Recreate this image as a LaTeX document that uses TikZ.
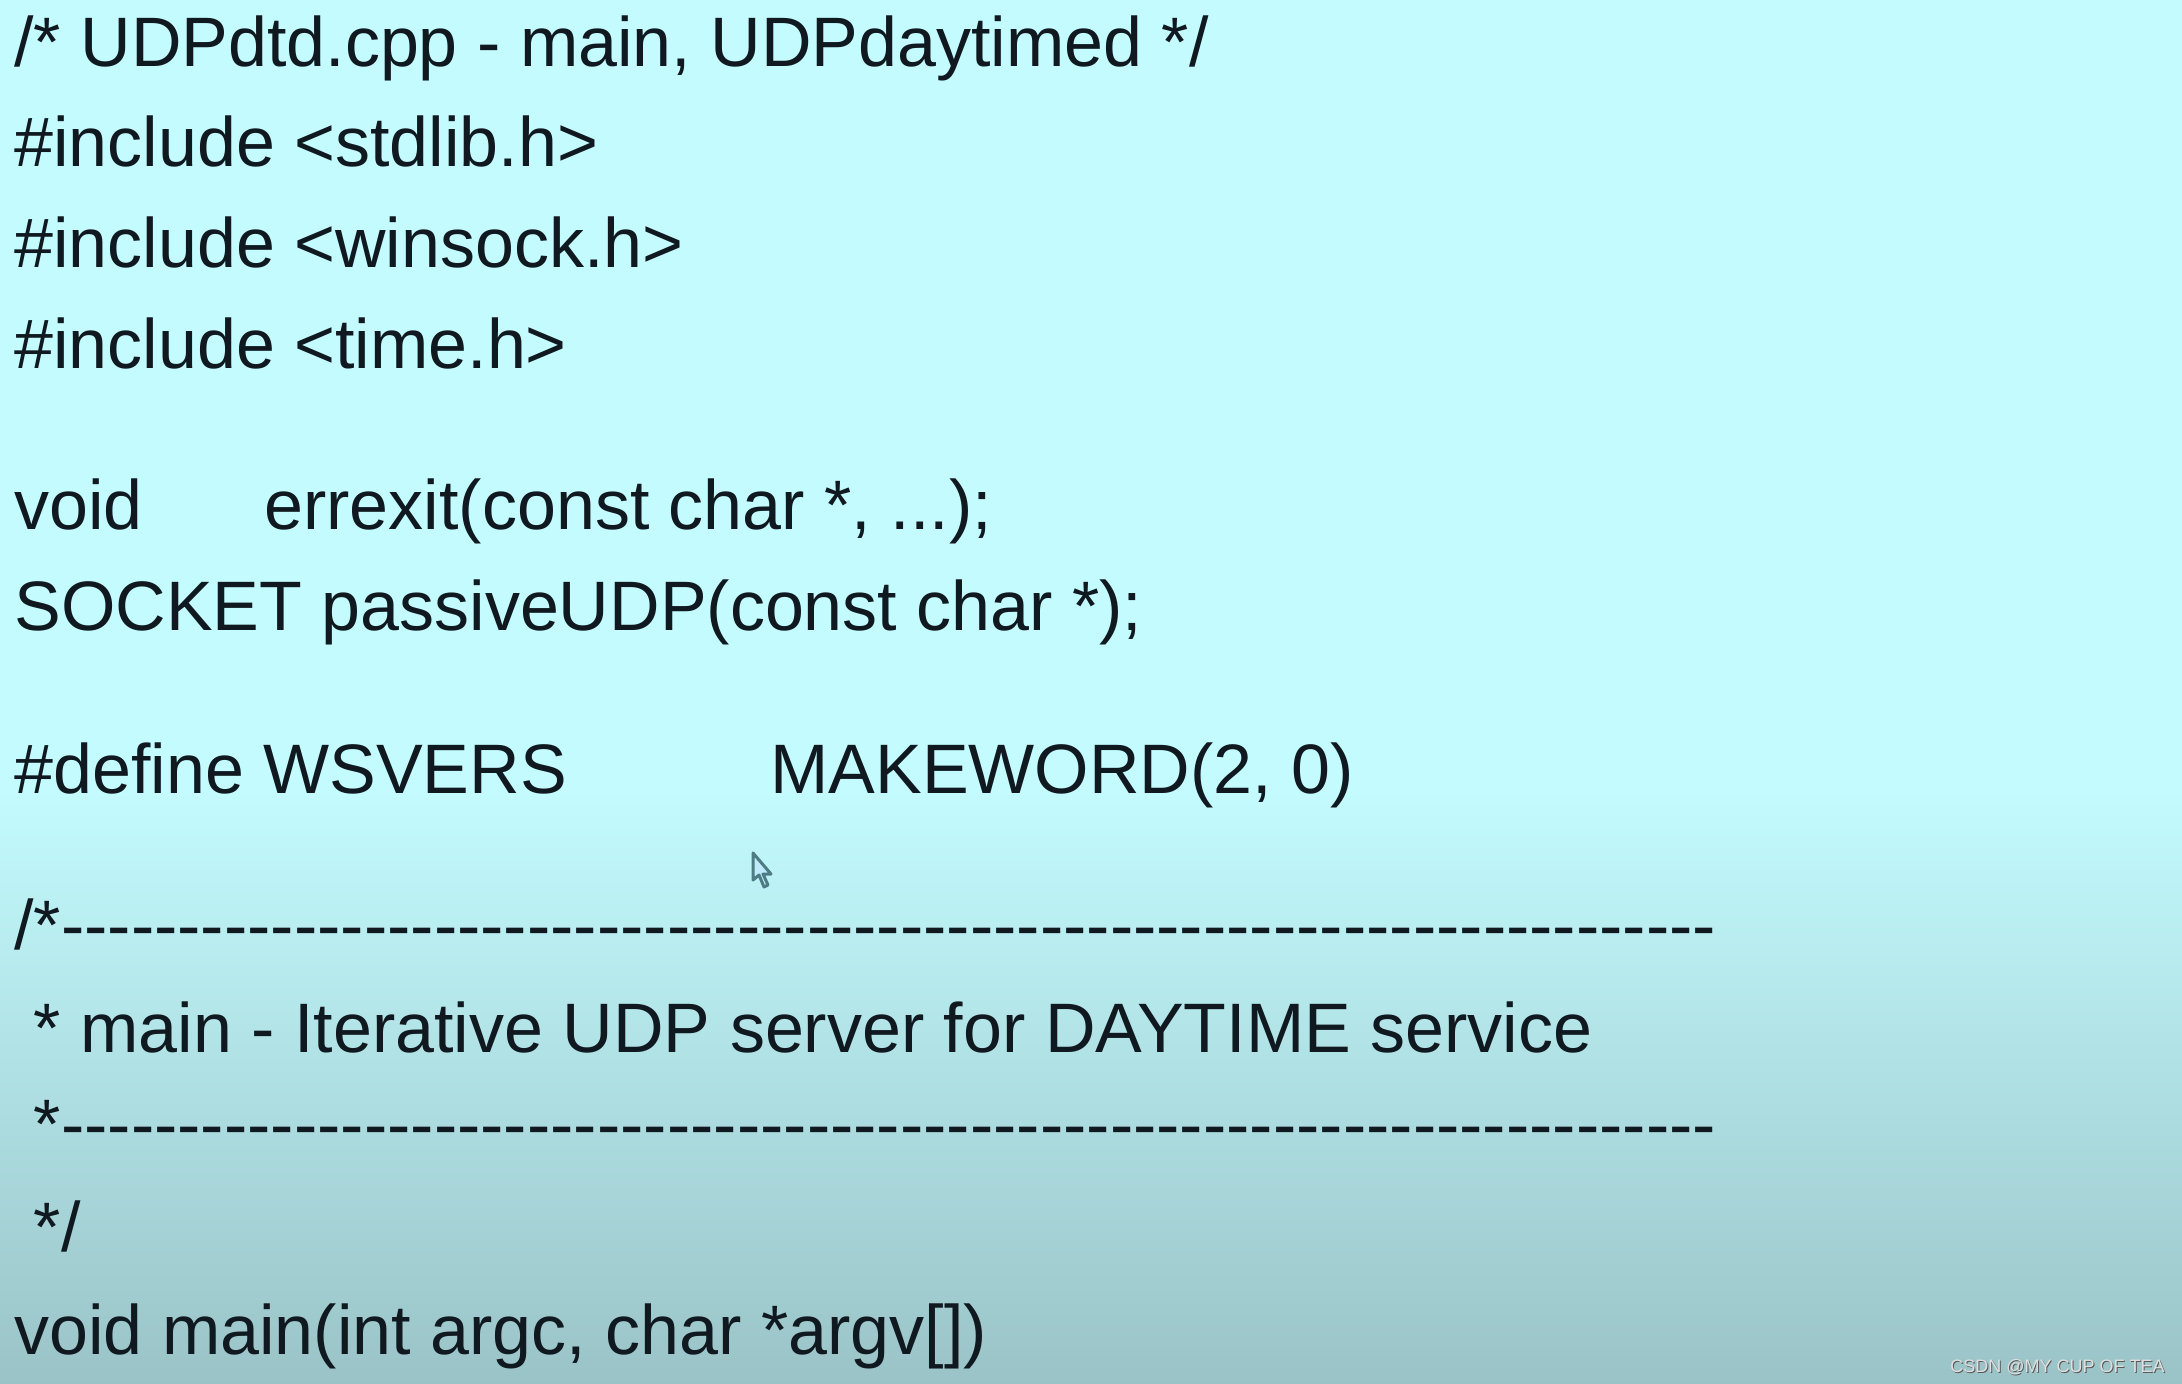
\documentclass[tikz,border=0pt]{standalone}
\usepackage{fontspec}
\setmainfont{Liberation Sans}
\newfontfamily\codefont{Liberation Sans}
\definecolor{bgtop}{HTML}{C3FBFE}
\definecolor{bgbot}{HTML}{9AC3C7}
\definecolor{ink}{HTML}{101820}
\definecolor{curedge}{HTML}{4E7C84}
\newcommand\dsh{-\kern0pt}
\newcommand\dashrow{\foreach \i in {1,...,71}{\dsh}}
\begin{document}
\begin{tikzpicture}[x=0.5pt,y=-0.5pt,
  code/.style={anchor=base west,inner sep=0pt,text=ink,font=\codefont\fontsize{35pt}{40pt}\selectfont},
  wm/.style={anchor=base east,inner sep=0pt,font=\fontsize{9pt}{11pt}\selectfont}]
\useasboundingbox (0,0) rectangle (2182,1384);
\fill[bgtop] (0,0) rectangle (2182,792);
\shade[top color=bgtop,bottom color=bgbot] (0,790) rectangle (2182,1384);
\node[code] (l1) at (14,67) {/* UDPdtd.cpp - main, UDPdaytimed */};
\node[code] (l2) at (14,167) {\#include <stdlib.h>};
\node[code] (l3) at (14,268) {\#include <winsock.h>};
\node[code] (l4) at (14,369) {\#include <time.h>};
\node[code] (l5a) at (14,530) {void};
\node[code] (l5b) at (264,530) {errexit(const char *, ...);};
\node[code] (l6) at (14,630) {SOCKET passiveUDP(const char *);};
\node[code] (l7a) at (14,793) {\#define WSVERS};
\node[code] (l7b) at (770,793) {MAKEWORD(2, 0)};
\node[code] (l8) at (14,949) {/*\dashrow};
\node[code] (l9) at (14,1052) {\ * main - Iterative UDP server for DAYTIME service};
\node[code] (l10) at (14,1148) {\ *\dashrow};
\node[code] (l11) at (14,1251) {\ */};
\node[code] (l12) at (14,1354) {void main(int argc, char *argv[])};
% mouse pointer
\filldraw[fill=white!75!cyan,draw=curedge,line width=1.5pt,line join=round]
  (753,853) -- (753,880) -- (759,875) -- (764,887) -- (768,885) -- (763,874) -- (771,874) -- cycle;
\node[wm,text=gray!70!black] (wms) at (2166,1373) {CSDN @MY CUP OF TEA};
\node[wm,text=gray!25] (wm) at (2165,1372) {CSDN @MY CUP OF TEA};
\end{tikzpicture}
\end{document}
